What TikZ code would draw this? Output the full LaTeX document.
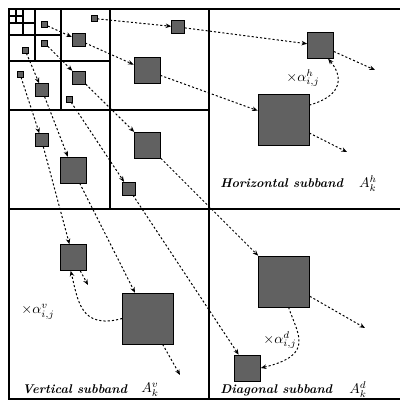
\documentclass[tikz,border=0pt]{standalone}
\usepackage{amsmath,amssymb}
\usepackage{tikz}
\usetikzlibrary{arrows.meta}

\begin{document}
\begin{tikzpicture}[x=0.025cm,y=-0.025cm,
    coef/.style={draw,fill=black!62,inner sep=0pt},
    c1/.style={coef,minimum size=12.75mm},
    c2/.style={coef,minimum size=6.5mm},
    c3/.style={coef,minimum size=3.2mm},
    c4/.style={coef,minimum size=1.5mm},
    link/.style={-{Stealth[length=4pt,width=3.2pt]},line width=0.7pt,dash pattern=on 1.5pt off 1.5pt},
    band/.style={anchor=base west,inner sep=0pt,font=\small\bfseries\itshape},
    wgt/.style={font=\normalsize}]
  \useasboundingbox (0,0) rectangle (400,403);
  \draw[line width=0.8pt] (400,9) -- (9,9) -- (9,399) -- (400,399);
  \foreach \m/\e in {209/400,110/209,61/110,35/61,23/35,16/23} {
    \draw[line width=0.8pt] (\m,9) -- (\m,\e);
    \draw[line width=0.8pt] (9,\m) -- (\e,\m);
  }
  % horizontal subbands
  \node[c4] (h4) at (44.5,24.5) {};
  \node[c4] (h3a) at (94,18.5) {};
  \node[c3] (h3b) at (78.5,40) {};
  \node[c3] (h2a) at (178,27) {};
  \node[c2] (h2b) at (147,70.5) {};
  \node[c2] (h1a) at (320.5,45.5) {};
  \node[c1] (h1b) at (283.5,120) {};
  \coordinate (hx1) at (375,70);
  \coordinate (hx2) at (347,152);
  % vertical subbands
  \node[c4] (v4) at (25,50) {};
  \node[c4] (v3a) at (20,74) {};
  \node[c3] (v3b) at (42,90) {};
  \node[c3] (v2a) at (41.5,140) {};
  \node[c2] (v2b) at (73,170) {};
  \node[c2] (v1a) at (73,257.5) {};
  \node[c1] (v1b) at (148,318.5) {};
  \coordinate (vx1) at (88,285);
  \coordinate (vx2) at (180,375);
  % diagonal subbands
  \node[c4] (d4) at (44.5,43) {};
  \node[c3] (d3a) at (79,77.5) {};
  \node[c4] (d3b) at (69,99) {};
  \node[c2] (d2a) at (147.5,145) {};
  \node[c3] (d2b) at (128.5,188.5) {};
  \node[c1] (d1a) at (284,281.5) {};
  \node[c2] (d1b) at (247.5,368) {};
  \coordinate (dx1) at (365,328);

  \draw[link] (h4) -- (h3b);
  \draw[link] (h3b) -- (h2b);
  \draw[link] (h2b) -- (h1b);
  \draw[link] (h1b) -- (hx2);
  \draw[link] (h3a) -- (h2a);
  \draw[link] (h2a) -- (h1a);
  \draw[link] (h1a) -- (hx1);
  \draw[link] (h1b.30) .. controls (345,95) and (342,75) .. (h1a.-60);

  \draw[link] (v4) -- (v3b);
  \draw[link] (v3b) -- (v2b);
  \draw[link] (v2b) -- (v1b);
  \draw[link] (v1b) -- (vx2);
  \draw[link] (v3a) -- (v2a);
  \draw[link] (v2a) -- (v1a);
  \draw[link] (v1a) -- (vx1);
  \draw[link] (v1b.west) .. controls (80,330) and (78,300) .. (v1a.-100);

  \draw[link] (d4) -- (d3a);
  \draw[link] (d3a) -- (d2a);
  \draw[link] (d2a) -- (d1a);
  \draw[link] (d1a) -- (dx1);
  \draw[link] (d3b) -- (d2b);
  \draw[link] (d2b) -- (d1b);
  \draw[link] (d1a.-80) .. controls (298,335) and (315,355) .. (d1b.east);

  \node[wgt] (wh) at (303,78) {$\times\alpha^{h}_{i,j}$};
  \node[wgt] (wv) at (38,312) {$\times\alpha^{v}_{i,j}$};
  \node[wgt] (wd) at (280,340) {$\times\alpha^{d}_{i,j}$};
  \node[band] (th) at (220,187) {Horizontal subband};
  \node[wgt] (ah) at (368,184) {$A^{h}_{k}$};
  \node[band] (tv) at (22,393) {Vertical subband};
  \node[wgt] (av) at (150,390) {$A^{v}_{k}$};
  \node[band] (td) at (220,393) {Diagonal subband};
  \node[wgt] (ad) at (358,390) {$A^{d}_{k}$};
\end{tikzpicture}
\end{document}
